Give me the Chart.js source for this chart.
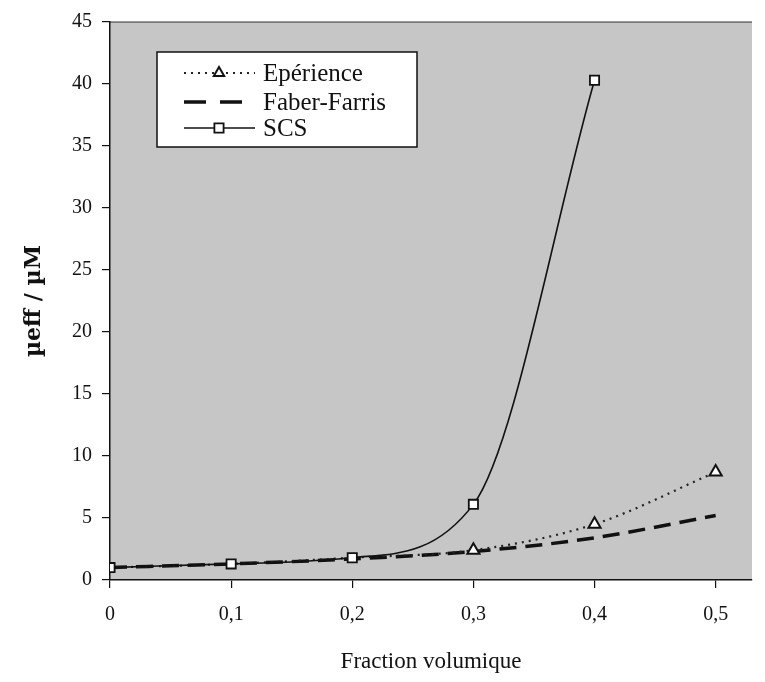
<!DOCTYPE html>
<html>
<head>
<meta charset="utf-8">
<script src="https://cdn.jsdelivr.net/npm/chart.js@4.4.1/dist/chart.umd.min.js"></script>
<style>
    html, body { margin: 0; padding: 0; background: #fff; }
    .chart-box { width: 765px; height: 682px; }
</style>
</head>
<body>
<div class="chart-box"><canvas id="chart1"></canvas></div>
<script>
// data
const fractions = [0, 0.1, 0.2, 0.3, 0.4, 0.5];
const experience = [1.0, 1.3, 1.8, 2.4, 4.5, 8.7];
const faberFarris = [1.0, 1.3, 1.7, 2.3, 3.4, 5.2];
const scsFractions = [0, 0.1, 0.2, 0.3, 0.4];
const scs = [1.0, 1.3, 1.8, 6.1, 40.3];
const xTicks = [0, 0.1, 0.2, 0.3, 0.4, 0.5];
const yTicks = [0, 5, 10, 15, 20, 25, 30, 35, 40, 45];
const seriesNames = ['Epérience', 'Faber-Farris', 'SCS'];

const serif = "'Liberation Serif', 'Times New Roman', serif";

function toPoints(xs, ys) {
    return xs.map((x, i) => ({ x: x, y: ys[i] }));
}

// grey plot background + top border
const plotBg = {
    id: 'plotBg',
    beforeDraw(chart) {
        const a = chart.chartArea;
        const c = chart.ctx;
        c.save();
        c.fillStyle = '#c6c6c6';
        c.fillRect(a.left, a.top, a.right - a.left, a.bottom - a.top);
        c.strokeStyle = '#333';
        c.lineWidth = 1.2;
        c.beginPath();
        c.moveTo(a.left, a.top);
        c.lineTo(a.right, a.top);
        c.stroke();
        c.restore();
    }
};

// boxed legend like the original
const boxLegend = {
    id: 'boxLegend',
    afterDatasetsDraw(chart) {
        const c = chart.ctx;
        const rows = [73, 102, 128];
        c.save();
        c.fillStyle = '#fff';
        c.fillRect(157, 52, 260, 95);
        c.strokeStyle = '#111';
        c.lineWidth = 1.5;
        c.strokeRect(157, 52, 260, 95);
        chart.data.datasets.forEach((ds, i) => {
            const y = rows[i];
            c.strokeStyle = ds.borderColor;
            c.lineWidth = ds.borderWidth;
            c.setLineDash(ds.legendDash || ds.borderDash || []);
            c.beginPath();
            c.moveTo(184, y);
            c.lineTo(255, y);
            c.stroke();
            c.setLineDash([]);
            if (ds.pointStyle) {
                c.fillStyle = ds.pointBackgroundColor;
                c.strokeStyle = ds.pointBorderColor;
                c.lineWidth = ds.pointBorderWidth;
                Chart.helpers.drawPoint(c, {
                    pointStyle: ds.pointStyle,
                    radius: ds.legendRadius,
                    borderWidth: ds.pointBorderWidth,
                    rotation: 0
                }, 219, y);
            }
            c.fillStyle = '#111';
            c.font = "25px " + serif;
            c.textBaseline = 'middle';
            c.fillText(ds.label, 263, y + 1);
        });
        c.restore();
    }
};

const ctx = document.getElementById('chart1').getContext('2d');

const myChart = new Chart(ctx, {
    type: 'line',
    data: {
        datasets: [{
            label: seriesNames[0],
            data: toPoints(fractions, experience),
            borderColor: '#222',
            borderWidth: 2.2,
            borderDash: [2, 5],
            legendDash: [2, 5],
            pointStyle: 'triangle',
            // first three markers sit under the SCS squares
            pointRadius: [0, 0, 0, 7, 7, 7],
            legendRadius: 6,
            pointBackgroundColor: '#fff',
            pointBorderColor: '#111',
            pointBorderWidth: 2,
            cubicInterpolationMode: 'monotone',
            order: 2
        }, {
            label: seriesNames[1],
            data: toPoints(fractions, faberFarris),
            borderColor: '#111',
            borderWidth: 3.5,
            borderDash: [17, 9],
            legendDash: [22, 14],
            pointRadius: 0,
            cubicInterpolationMode: 'monotone',
            order: 3
        }, {
            label: seriesNames[2],
            data: toPoints(scsFractions, scs),
            borderColor: '#111',
            borderWidth: 1.6,
            pointStyle: 'rect',
            pointRadius: 6.5,
            legendRadius: 6.5,
            pointBackgroundColor: '#fff',
            pointBorderColor: '#111',
            pointBorderWidth: 1.8,
            cubicInterpolationMode: 'monotone',
            order: 1
        }]
    },
    options: {
        responsive: true,
        maintainAspectRatio: false,
        animation: false,
        layout: {
            padding: { left: 17, top: 15, right: 13, bottom: 2 }
        },
        plugins: {
            legend: { display: false },
            tooltip: { enabled: false }
        },
        scales: {
            x: {
                type: 'linear',
                min: 0,
                max: 0.53,
                afterBuildTicks: function (scale) {
                    scale.ticks = xTicks.map(v => ({ value: v }));
                },
                afterFit: function (scale) {
                    scale.height = 100;
                },
                ticks: {
                    color: '#111',
                    padding: 15,
                    maxRotation: 0,
                    font: { family: serif, size: 20 },
                    callback: function (value) {
                        return value === 0 ? '0' : value.toFixed(1).replace('.', ',');
                    }
                },
                grid: {
                    drawOnChartArea: false,
                    tickLength: 8,
                    color: '#111',
                    lineWidth: 1.2
                },
                border: { color: '#111', width: 1.5 },
                title: {
                    display: true,
                    text: 'Fraction volumique',
                    color: '#111',
                    font: { family: serif, size: 23 }
                }
            },
            y: {
                min: 0,
                max: 45,
                afterBuildTicks: function (scale) {
                    scale.ticks = yTicks.map(v => ({ value: v }));
                },
                afterFit: function (scale) {
                    scale.width = 93;
                },
                ticks: {
                    color: '#111',
                    padding: 10,
                    font: { family: serif, size: 20 }
                },
                grid: {
                    drawOnChartArea: false,
                    tickLength: 8,
                    color: '#111',
                    lineWidth: 1.2
                },
                border: { color: '#111', width: 1.5 },
                title: {
                    display: true,
                    text: 'µeff / µM',
                    color: '#111',
                    font: { family: "'DejaVu Serif', serif", size: 22, weight: 'bold' }
                }
            }
        }
    },
    plugins: [plotBg, boxLegend]
});
</script>
</body>
</html>
